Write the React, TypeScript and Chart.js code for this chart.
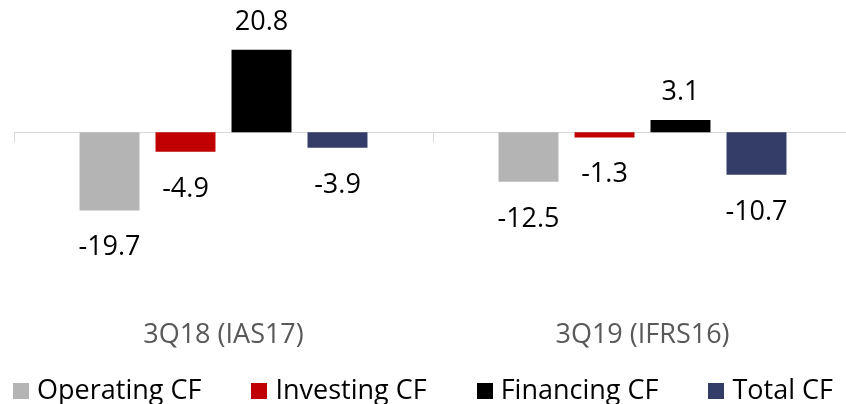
import React, { useEffect, useRef } from "react";
import { Chart, registerables } from "chart.js";

Chart.register(...registerables);

const categories = ["3Q18 (IAS17)", "3Q19 (IFRS16)"];
const seriesNames = ["Operating CF", "Investing CF", "Financing CF", "Total CF"];
const operatingCF = [-19.7, -12.5];
const investingCF = [-4.9, -1.3];
const financingCF = [20.8, 3.1];
const totalCF = [-3.9, -10.7];
const seriesColors = ["#B4B4B4", "#C00000", "#000000", "#333D68"];

const FONT = "'Open Sans', 'Noto Sans', sans-serif";

const drawPlugin = {
  id: "customDraw",
  beforeDatasetsDraw(chart: any) {
    const { ctx, chartArea, scales } = chart;
    const y0 = Math.round(scales.y.getPixelForValue(0)) + 0.5;
    ctx.save();
    ctx.strokeStyle = "#D9D9D9";
    ctx.lineWidth = 1;
    ctx.beginPath();
    ctx.moveTo(chartArea.left, y0);
    ctx.lineTo(chart.width, y0);
    const n = chart.data.labels.length;
    const w = (chartArea.right - chartArea.left) / n;
    for (let k = 0; k <= n; k++) {
      const x = Math.round(chartArea.left + k * w) + 0.5;
      ctx.moveTo(x, y0);
      ctx.lineTo(x, y0 + 10);
    }
    ctx.stroke();
    ctx.restore();
  },
  afterDatasetsDraw(chart: any) {
    const { ctx, chartArea, scales } = chart;
    ctx.save();
    // data labels
    ctx.font = `27px ${FONT}`;
    ctx.fillStyle = "#000000";
    ctx.textAlign = "center";
    ctx.textBaseline = "alphabetic";
    chart.data.datasets.forEach((ds: any, i: number) => {
      const meta = chart.getDatasetMeta(i);
      meta.data.forEach((el: any, j: number) => {
        const v = ds.data[j];
        const y = v >= 0 ? el.y - 20 : el.y + 45;
        ctx.fillText(v.toFixed(1), el.x, y);
      });
    });
    // category labels
    ctx.fillStyle = "#595959";
    chart.data.labels.forEach((lab: string, j: number) => {
      const x = scales.x.getPixelForValue(j);
      ctx.fillText(lab, x, 343);
    });
    // legend
    ctx.textAlign = "left";
    ctx.fillStyle = "#000000";
    const box = 16;
    const gapText = 8;
    const gapItem = 50;
    const widths = chart.data.datasets.map(
      (ds: any) => box + gapText + ctx.measureText(ds.label).width
    );
    const total = widths.reduce((a: number, b: number) => a + b, 0) + gapItem * (widths.length - 1);
    let x = (846 - total) / 2;
    chart.data.datasets.forEach((ds: any, i: number) => {
      ctx.fillStyle = ds.backgroundColor;
      ctx.fillRect(Math.round(x), 383, box, box);
      ctx.fillStyle = "#000000";
      ctx.fillText(ds.label, x + box + gapText, 399);
      x += widths[i] + gapItem;
    });
    ctx.restore();
  },
};

export default function App() {
  const ref = useRef<HTMLCanvasElement>(null);
  useEffect(() => {
    if (!ref.current) return;
    const series = [operatingCF, investingCF, financingCF, totalCF];
    const chart = new Chart(ref.current, {
      type: "bar",
      data: {
        labels: categories,
        datasets: series.map((d, i) => ({
          label: seriesNames[i],
          data: d,
          backgroundColor: seriesColors[i],
          borderWidth: 0,
          categoryPercentage: 0.7255,
          barPercentage: 0.789,
        })),
      },
      options: {
        responsive: false,
        animation: false,
        devicePixelRatio: 1,
        layout: { padding: { left: 14, right: 18, top: 33, bottom: 113 } },
        plugins: { legend: { display: false }, tooltip: { enabled: false } },
        scales: {
          x: { display: false, offset: true },
          y: { display: false, min: -40, max: 25 },
        },
      },
      plugins: [drawPlugin],
    });
    return () => chart.destroy();
  }, []);
  return (
    <div
      style={{
        position: "absolute",
        left: 0,
        top: 0,
        width: 846,
        height: 404,
        overflow: "hidden",
        background: "#ffffff",
      }}
    >
      <canvas ref={ref} width={870} height={404} style={{ display: "block" }} />
    </div>
  );
}
